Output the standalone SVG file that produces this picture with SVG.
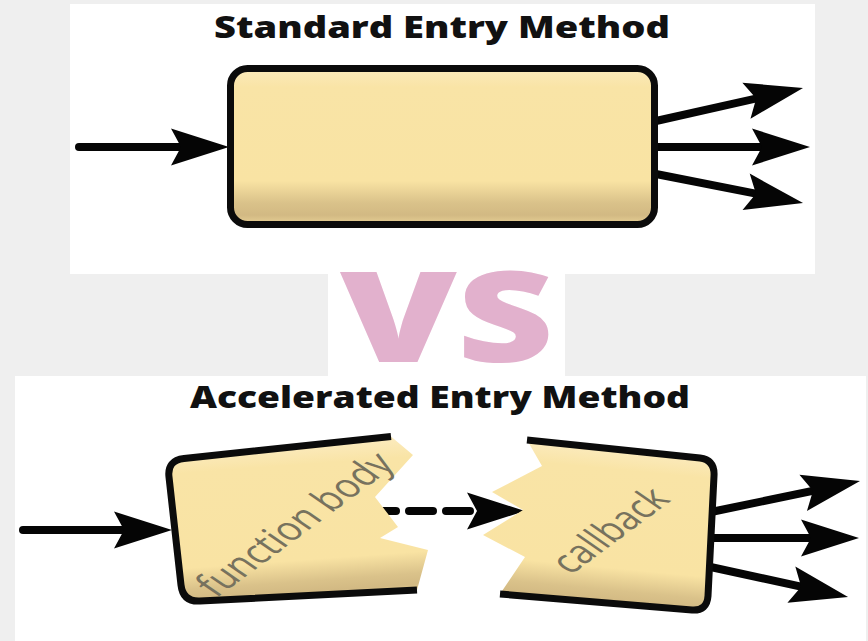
<svg xmlns="http://www.w3.org/2000/svg" width="868" height="641" viewBox="0 0 868 641">
  <style>
    .panel { fill: #ffffff; }
    .title { font-family: "Open Sans", "Liberation Sans", sans-serif; font-weight: 800; font-size: 30px; fill: #111111; }
    .vs { font-family: "Open Sans", "Liberation Sans", sans-serif; font-weight: 800; font-size: 126px; fill: #e2b1cd; }
    .label { font-family: "Open Sans", "Liberation Sans", sans-serif; font-weight: 400; font-size: 33px; fill: #77725e; }
    .outline { fill: none; stroke: #0b0b0b; stroke-width: 7; stroke-linejoin: round; }
    .wire { fill: none; stroke: #050505; stroke-width: 8; marker-end: url(#head); }
    .wire-in { stroke-linecap: round; }
    .dashed { stroke-dasharray: 24 13; stroke-linecap: round; }
  </style>
  <defs>
    <!-- notched arrowhead; tip sits 20 units past the end of the line -->
    <marker id="head" viewBox="-40 -20 62 40" refX="0" refY="0" markerWidth="62" markerHeight="40" markerUnits="userSpaceOnUse" orient="auto" overflow="visible">
      <path d="M20,0 L-38,-18.5 L-28,0 L-38,18.5 Z" fill="#050505"/>
    </marker>
    <linearGradient id="fill-top" x1="0" y1="0" x2="0" y2="1">
      <stop offset="0" stop-color="#fbeabb"/>
      <stop offset="0.12" stop-color="#f9e4a6"/>
      <stop offset="0.72" stop-color="#f9e3a3"/>
      <stop offset="0.86" stop-color="#dac28a"/>
      <stop offset="0.94" stop-color="#d2b983"/>
      <stop offset="1" stop-color="#e8d196"/>
    </linearGradient>
    <linearGradient id="fill-left" gradientUnits="userSpaceOnUse" x1="290" y1="447" x2="301" y2="600">
      <stop offset="0" stop-color="#fbeabb"/>
      <stop offset="0.12" stop-color="#f9e4a6"/>
      <stop offset="0.74" stop-color="#f9e3a3"/>
      <stop offset="0.88" stop-color="#dac28a"/>
      <stop offset="0.95" stop-color="#d2b983"/>
      <stop offset="1" stop-color="#e8d196"/>
    </linearGradient>
    <linearGradient id="fill-right" gradientUnits="userSpaceOnUse" x1="612" y1="450" x2="597" y2="608">
      <stop offset="0" stop-color="#fbeabb"/>
      <stop offset="0.12" stop-color="#f9e4a6"/>
      <stop offset="0.74" stop-color="#f9e3a3"/>
      <stop offset="0.88" stop-color="#dac28a"/>
      <stop offset="0.95" stop-color="#d2b983"/>
      <stop offset="1" stop-color="#e8d196"/>
    </linearGradient>
  </defs>

  <!-- page and white panels -->
  <rect x="0" y="0" width="868" height="641" fill="#efefef"/>
  <rect class="panel" x="70" y="4" width="745" height="270"/>
  <rect class="panel" x="328" y="273" width="237" height="104"/>
  <rect class="panel" x="15" y="376" width="851" height="265"/>

  <!-- headings -->
  <text class="title" x="214" y="38" textLength="456" lengthAdjust="spacingAndGlyphs">Standard Entry Method</text>
  <text class="vs" x="340" y="362" textLength="214" lengthAdjust="spacingAndGlyphs">VS</text>
  <text class="title" x="190" y="408" textLength="500" lengthAdjust="spacingAndGlyphs">Accelerated Entry Method</text>

  <!-- connectors -->
  <g id="connectors">
    <path class="wire wire-in" d="M79,147 L209,147"/>
    <path class="wire" d="M656,121 L783.5,92.4"/>
    <path class="wire" d="M656,147 L790,147"/>
    <path class="wire" d="M656,174 L783.4,199.1"/>

    <path class="wire wire-in" d="M23,530 L152,530"/>
    <path class="wire dashed" d="M372,511 L505,511"/>
    <path class="wire" d="M711,512 L840.4,485.1"/>
    <path class="wire" d="M710,538 L839,538"/>
    <path class="wire" d="M706,566 L828.5,592.7"/>
  </g>

  <!-- standard entry method block -->
  <g id="entry-method">
    <rect x="230.5" y="68.5" width="424" height="156" rx="17" fill="url(#fill-top)" stroke="#0b0b0b" stroke-width="7"/>
  </g>

  <!-- accelerated entry: function body half -->
  <g id="function-body">
    <path d="M391,436.5 L413,455 L375,497 L398,527 L380,538 L428,550 L417,590 L200,601 Q183,602 181,585 L169,477 Q167,460.5 184,458.5 Z" fill="url(#fill-left)"/>
    <path class="outline" d="M391,436.5 L184,458.5 Q167,460.5 169,477 L181,585 Q183,602 200,601 L417,590"/>
    <text class="label" transform="translate(306,532) scale(1.4,1) rotate(-46)" text-anchor="middle" textLength="185" lengthAdjust="spacingAndGlyphs">function body</text>
  </g>

  <!-- accelerated entry: callback half -->
  <g id="callback">
    <path d="M527,440 L700,458 Q715,460 714,476 L708,596 Q707,611 692,610 L500,594 L525,557 L483,535 L523,510 L492,492 L542,466 Z" fill="url(#fill-right)"/>
    <path class="outline" d="M527,440 L700,458 Q715,460 714,476 L708,596 Q707,611 692,610 L500,594"/>
    <text class="label" transform="translate(621,538) scale(1.4,1) rotate(-46)" text-anchor="middle" textLength="104" lengthAdjust="spacingAndGlyphs">callback</text>
  </g>
</svg>
